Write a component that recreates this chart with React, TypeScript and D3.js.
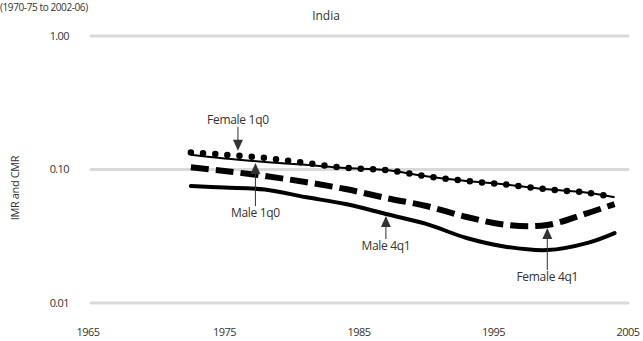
import * as d3 from 'd3';
import { useEffect, useRef } from 'react';

// mid-years of the 5-year periods (1970-75 ... 2002-06)
const years = [1972.5, 1975, 1978, 1981, 1984, 1987, 1990, 1993, 1996, 1999, 2002, 2004];
const female1q0 = [0.134, 0.129, 0.122, 0.112, 0.103, 0.099, 0.089, 0.082, 0.077, 0.071, 0.067, 0.062];
const male1q0 = [0.129, 0.121, 0.114, 0.1085, 0.1026, 0.099, 0.089, 0.082, 0.077, 0.071, 0.067, 0.062];
const female4q1 = [0.104, 0.0975, 0.0894, 0.0806, 0.0714, 0.0612, 0.0533, 0.0441, 0.0384, 0.0384, 0.0472, 0.0551];
const male4q1 = [0.0752, 0.0733, 0.0708, 0.0622, 0.0551, 0.0464, 0.0391, 0.0307, 0.0263, 0.0249, 0.0282, 0.0334];
const yTicks = [1, 0.1, 0.01];
const xTicks = [1965, 1975, 1985, 1995, 2005];

// label, year the arrow points at, series it points at, side of the label
const notes = [
  { text: 'Female 1q0', year: 1976, series: female1q0, dir: 'down', gap: 5, len: 24 },
  { text: 'Male 1q0', year: 1977.3, series: male1q0, dir: 'up', gap: 2, len: 43 },
  { text: 'Male 4q1', year: 1987, series: male4q1, dir: 'up', gap: 2, len: 23 },
  { text: 'Female 4q1', year: 1999, series: female4q1, dir: 'up', gap: 3, len: 42 },
];

const W = 643, H = 341;
const font = '"Open Sans", sans-serif';

const App = () => {
  const svgRef = useRef(null);

  useEffect(() => {
    const svg = d3.select(svgRef.current);
    svg.selectAll('*').remove();

    const x = d3.scaleLinear().domain([1965, 2005]).range([90, 628]);
    const y = d3.scaleLog().domain([0.01, 1]).range([303, 36]);

    // grid
    svg.append('g').selectAll('line').data(yTicks).join('line')
      .attr('x1', 91).attr('x2', 628)
      .attr('y1', d => y(d)).attr('y2', d => y(d))
      .attr('stroke', '#d9d9d9').attr('stroke-width', 3).attr('stroke-linecap', 'round');

    svg.append('g').selectAll('text').data(yTicks).join('text')
      .attr('x', 69).attr('y', d => y(d)).attr('dy', '0.35em')
      .attr('text-anchor', 'end').attr('font-size', 11).attr('fill', '#333')
      .attr('font-family', font).attr('letter-spacing', -0.6).text(d => d3.format('.2f')(d));

    svg.append('g').selectAll('text').data(xTicks).join('text')
      .attr('x', d => x(d) - (d === 1965 ? 2 : 0)).attr('y', 336)
      .attr('text-anchor', 'middle').attr('font-size', 11).attr('fill', '#333')
      .attr('font-family', font).attr('letter-spacing', -0.6).text(d => d);

    svg.append('text').attr('transform', 'translate(19,188) rotate(-90)')
      .attr('text-anchor', 'middle').attr('font-size', 11).attr('fill', '#333')
      .attr('font-family', font).attr('letter-spacing', -0.4).text('IMR and CMR');

    svg.append('text').attr('x', 326).attr('y', 20).attr('text-anchor', 'middle')
      .attr('font-size', 12).attr('fill', '#333').attr('font-family', font).text('India');

    svg.append('text').attr('x', 0).attr('y', 11).attr('font-size', 10).attr('fill', '#333')
      .attr('font-family', font).attr('letter-spacing', -0.4).text('(1970-75 to 2002-06)');

    const line = (vals: number[]) => d3.line<number>()
      .x((_, i) => x(years[i])).y(d => y(d))
      .curve(d3.curveCatmullRom.alpha(0.5))(vals);

    svg.append('path').attr('d', line(male4q1)).attr('fill', 'none')
      .attr('stroke', '#000').attr('stroke-width', 4).attr('stroke-linecap', 'round');
    svg.append('path').attr('d', line(female4q1)).attr('fill', 'none')
      .attr('stroke', '#000').attr('stroke-width', 6).attr('stroke-dasharray', '18 7');
    svg.append('path').attr('d', line(male1q0)).attr('fill', 'none')
      .attr('stroke', '#000').attr('stroke-width', 2);
    svg.append('path').attr('d', line(female1q0)).attr('fill', 'none')
      .attr('stroke', '#000').attr('stroke-width', 6.5).attr('stroke-linecap', 'round')
      .attr('stroke-dasharray', '0 12.2');

    // annotations
    const interp = (vals: number[], yr: number) => {
      const i = Math.max(0, d3.bisectLeft(years, yr) - 1);
      const t = (yr - years[i]) / (years[i + 1] - years[i]);
      return Math.exp(Math.log(vals[i]) * (1 - t) + Math.log(vals[i + 1]) * t);
    };
    notes.forEach(n => {
      const px = x(n.year);
      const py = y(interp(n.series, n.year));
      const g = svg.append('g').attr('fill', '#333').attr('font-family', font);
      if (n.dir === 'down') {
        const tip = py - n.gap;
        g.append('line').attr('x1', px).attr('x2', px).attr('y1', tip - n.len).attr('y2', tip - 8)
          .attr('stroke', '#333').attr('stroke-width', 1);
        g.append('path').attr('d', `M${px - 5},${tip - 11}L${px + 5},${tip - 11}L${px},${tip}Z`);
        g.append('text').attr('x', px).attr('y', tip - n.len - 3).attr('text-anchor', 'middle')
          .attr('font-size', 12).attr('letter-spacing', -0.3).text(n.text);
      } else {
        const tip = py + n.gap;
        g.append('line').attr('x1', px).attr('x2', px).attr('y1', tip + 8).attr('y2', tip + n.len)
          .attr('stroke', '#333').attr('stroke-width', 1);
        g.append('path').attr('d', `M${px - 5},${tip + 11}L${px + 5},${tip + 11}L${px},${tip}Z`);
        g.append('text').attr('x', px).attr('y', tip + n.len + 11).attr('text-anchor', 'middle')
          .attr('font-size', 12).attr('letter-spacing', -0.3).text(n.text);
      }
    });
  }, []);

  return <svg ref={svgRef} width={W} height={H} style={{ position: 'absolute', left: 0, top: 0 }}></svg>;
};

export default App;
